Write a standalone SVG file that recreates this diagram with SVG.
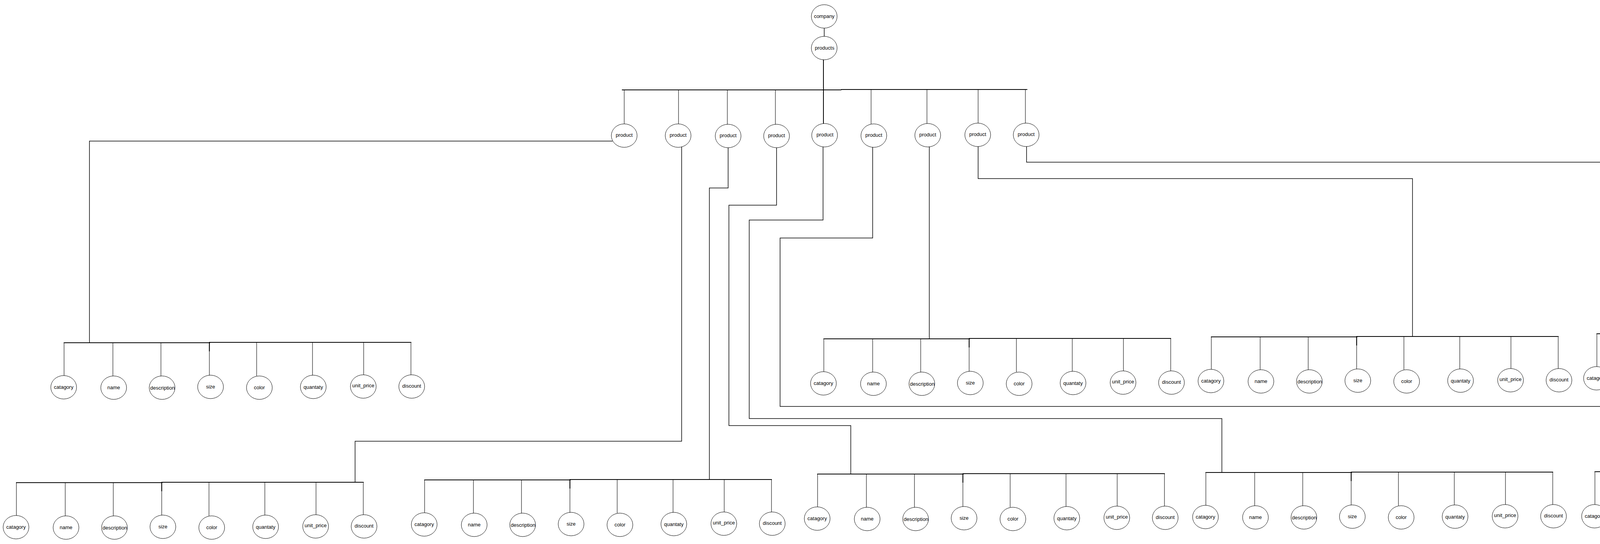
<svg xmlns="http://www.w3.org/2000/svg" width="5024" height="1392" viewBox="0 0 5024 1392">
<style>
.n ellipse{fill:#fff;stroke:#000;stroke-width:1}
.n text{font-family:"Liberation Sans",Arial,sans-serif;font-size:13px;fill:#000;text-anchor:middle}
#connectors path{fill:none;stroke:#000}
.bus{stroke-width:2}
.drop{stroke-width:1.1}
.link{stroke-width:1.5}
.stub{stroke-width:2.2}
</style>
<rect width="5024" height="1392" fill="#fff"/>
<g id="connectors">
<path class="link" d="M2110,72V93"/>
<path class="bus" d="M2108,153V317"/>
<path class="bus" d="M1592,230H2154M2153,229H2630"/>
<path class="drop" d="M1598,231V317M1737,231V317M1862,231V318M1985,231V318M2230,230V318M2373,230V316M2504,230V315M2625,230V315"/>
<path class="link" d="M1568,361H229V876"/>
<path class="link" d="M1745,376V1129H909V1234"/>
<path class="link" d="M1864,377V481H1816V1227"/>
<path class="link" d="M1988,378V525H1866V1089H2178V1212"/>
<path class="link" d="M2107,376V563H1918V1071H3128V1208"/>
<path class="link" d="M2234,377V609H1997V1040H4177V1206"/>
<path class="link" d="M2379,376V866"/>
<path class="link" d="M2504,375V457H3616V861"/>
<path class="link" d="M2628,375V415H4758V853"/>
<path class="bus" d="M163,877H538M535,876H1053"/>
<path class="stub" d="M536,876V899"/>
<path class="drop" d="M164,877V961M289,877V962M412,877V962M536,877V960M657,876V962M800,876V960M931,876V959M1052,876V959"/>
<path class="bus" d="M2108,867H2483M2480,866H2998"/>
<path class="stub" d="M2481,866V889"/>
<path class="drop" d="M2109,867V951M2234,867V952M2357,867V952M2481,867V950M2602,866V952M2745,866V950M2876,866V949M2997,866V949"/>
<path class="bus" d="M3100,862H3475M3472,861H3990"/>
<path class="stub" d="M3473,861V884"/>
<path class="drop" d="M3101,862V945M3226,862V946M3349,862V946M3473,862V944M3594,861V946M3737,861V944M3868,861V943M3989,861V943"/>
<path class="bus" d="M4087,854H4462M4459,853H4977"/>
<path class="stub" d="M4460,853V876"/>
<path class="drop" d="M4088,854V938M4213,854V939M4336,854V939M4460,854V937M4581,853V939M4724,853V937M4855,853V936M4976,853V936"/>
<path class="bus" d="M41,1235H416M413,1234H931"/>
<path class="stub" d="M414,1234V1257"/>
<path class="drop" d="M42,1235V1319M167,1235V1320M290,1235V1320M414,1235V1318M535,1234V1320M678,1234V1318M809,1234V1317M930,1234V1317"/>
<path class="bus" d="M1086,1228H1461M1458,1227H1976"/>
<path class="stub" d="M1459,1227V1250"/>
<path class="drop" d="M1087,1228V1312M1212,1228V1313M1335,1228V1313M1459,1228V1311M1580,1227V1313M1723,1227V1311M1854,1227V1310M1975,1227V1310"/>
<path class="bus" d="M2092,1213H2467M2464,1212H2982"/>
<path class="stub" d="M2465,1212V1235"/>
<path class="drop" d="M2093,1213V1297M2218,1213V1298M2341,1213V1298M2465,1213V1296M2586,1212V1298M2729,1212V1296M2860,1212V1295M2981,1212V1295"/>
<path class="bus" d="M3086,1209H3461M3458,1208H3976"/>
<path class="stub" d="M3459,1208V1231"/>
<path class="drop" d="M3087,1209V1293M3212,1209V1294M3335,1209V1294M3459,1209V1292M3580,1208V1294M3723,1208V1292M3854,1208V1291M3975,1208V1291"/>
<path class="bus" d="M4082,1207H4457M4454,1206H4972"/>
<path class="stub" d="M4455,1206V1229"/>
<path class="drop" d="M4083,1207V1291M4208,1207V1292M4331,1207V1292M4455,1207V1290M4576,1206V1292M4719,1206V1290M4850,1206V1289M4971,1206V1289"/>
</g>
<g id="company" class="n"><ellipse cx="2110" cy="42" rx="33" ry="30"/><text x="2110" y="46">company</text></g>
<g id="products" class="n"><ellipse cx="2110" cy="123" rx="33" ry="30"/><text x="2111" y="127">products</text></g>
<g id="product1" class="n"><ellipse cx="1598" cy="347" rx="33" ry="30"/><text x="1598" y="350">product</text></g>
<g id="product2" class="n"><ellipse cx="1736" cy="347" rx="33" ry="30"/><text x="1736" y="350">product</text></g>
<g id="product3" class="n"><ellipse cx="1864" cy="348" rx="33" ry="30"/><text x="1864" y="351">product</text></g>
<g id="product4" class="n"><ellipse cx="1988" cy="348" rx="33" ry="30"/><text x="1988" y="351">product</text></g>
<g id="product5" class="n"><ellipse cx="2111" cy="346" rx="33" ry="30"/><text x="2112" y="349">product</text></g>
<g id="product6" class="n"><ellipse cx="2237" cy="347" rx="33" ry="30"/><text x="2237" y="350">product</text></g>
<g id="product7" class="n"><ellipse cx="2375" cy="346" rx="33" ry="30"/><text x="2375" y="349">product</text></g>
<g id="product8" class="n"><ellipse cx="2503" cy="345" rx="33" ry="30"/><text x="2503" y="348">product</text></g>
<g id="product9" class="n"><ellipse cx="2627" cy="345" rx="33" ry="30"/><text x="2627" y="348">product</text></g>

<g id="p1-catagory" class="n"><ellipse cx="163" cy="991" rx="33" ry="30"/><text x="163" y="995">catagory</text></g>
<g id="p1-name" class="n"><ellipse cx="291" cy="992" rx="33" ry="30"/><text x="291" y="996">name</text></g>
<g id="p1-description" class="n"><ellipse cx="415" cy="992" rx="33" ry="30"/><text x="416" y="997">description</text></g>
<g id="p1-size" class="n"><ellipse cx="539" cy="990" rx="33" ry="30"/><text x="539" y="994">size</text></g>
<g id="p1-color" class="n"><ellipse cx="664" cy="992" rx="33" ry="30"/><text x="664" y="996">color</text></g>
<g id="p1-quantaty" class="n"><ellipse cx="802" cy="990" rx="33" ry="30"/><text x="802" y="995">quantaty</text></g>
<g id="p1-unit_price" class="n"><ellipse cx="930" cy="989" rx="33" ry="30"/><text x="930" y="991">unit_price</text></g>
<g id="p1-discount" class="n"><ellipse cx="1054" cy="989" rx="33" ry="30"/><text x="1054" y="992">discount</text></g>

<g id="p7-catagory" class="n"><ellipse cx="2108" cy="981" rx="33" ry="30"/><text x="2108" y="985">catagory</text></g>
<g id="p7-name" class="n"><ellipse cx="2236" cy="982" rx="33" ry="30"/><text x="2236" y="986">name</text></g>
<g id="p7-description" class="n"><ellipse cx="2360" cy="982" rx="33" ry="30"/><text x="2361" y="987">description</text></g>
<g id="p7-size" class="n"><ellipse cx="2484" cy="980" rx="33" ry="30"/><text x="2484" y="984">size</text></g>
<g id="p7-color" class="n"><ellipse cx="2609" cy="982" rx="33" ry="30"/><text x="2609" y="986">color</text></g>
<g id="p7-quantaty" class="n"><ellipse cx="2747" cy="980" rx="33" ry="30"/><text x="2747" y="985">quantaty</text></g>
<g id="p7-unit_price" class="n"><ellipse cx="2875" cy="979" rx="33" ry="30"/><text x="2875" y="981">unit_price</text></g>
<g id="p7-discount" class="n"><ellipse cx="2999" cy="979" rx="33" ry="30"/><text x="2999" y="982">discount</text></g>

<g id="p8-catagory" class="n"><ellipse cx="3100" cy="975" rx="33" ry="30"/><text x="3100" y="979">catagory</text></g>
<g id="p8-name" class="n"><ellipse cx="3228" cy="976" rx="33" ry="30"/><text x="3228" y="980">name</text></g>
<g id="p8-description" class="n"><ellipse cx="3352" cy="976" rx="33" ry="30"/><text x="3353" y="981">description</text></g>
<g id="p8-size" class="n"><ellipse cx="3476" cy="974" rx="33" ry="30"/><text x="3476" y="978">size</text></g>
<g id="p8-color" class="n"><ellipse cx="3601" cy="976" rx="33" ry="30"/><text x="3601" y="980">color</text></g>
<g id="p8-quantaty" class="n"><ellipse cx="3739" cy="974" rx="33" ry="30"/><text x="3739" y="979">quantaty</text></g>
<g id="p8-unit_price" class="n"><ellipse cx="3867" cy="973" rx="33" ry="30"/><text x="3867" y="975">unit_price</text></g>
<g id="p8-discount" class="n"><ellipse cx="3991" cy="973" rx="33" ry="30"/><text x="3991" y="976">discount</text></g>

<g id="p9-catagory" class="n"><ellipse cx="4087" cy="968" rx="33" ry="30"/><text x="4087" y="972">catagory</text></g>
<g id="p9-name" class="n"><ellipse cx="4215" cy="969" rx="33" ry="30"/><text x="4215" y="973">name</text></g>
<g id="p9-description" class="n"><ellipse cx="4339" cy="969" rx="33" ry="30"/><text x="4340" y="974">description</text></g>
<g id="p9-size" class="n"><ellipse cx="4463" cy="967" rx="33" ry="30"/><text x="4463" y="971">size</text></g>
<g id="p9-color" class="n"><ellipse cx="4588" cy="969" rx="33" ry="30"/><text x="4588" y="973">color</text></g>
<g id="p9-quantaty" class="n"><ellipse cx="4726" cy="967" rx="33" ry="30"/><text x="4726" y="972">quantaty</text></g>
<g id="p9-unit_price" class="n"><ellipse cx="4854" cy="966" rx="33" ry="30"/><text x="4854" y="968">unit_price</text></g>
<g id="p9-discount" class="n"><ellipse cx="4978" cy="966" rx="33" ry="30"/><text x="4978" y="969">discount</text></g>

<g id="p2-catagory" class="n"><ellipse cx="41" cy="1349" rx="33" ry="30"/><text x="41" y="1353">catagory</text></g>
<g id="p2-name" class="n"><ellipse cx="169" cy="1350" rx="33" ry="30"/><text x="169" y="1354">name</text></g>
<g id="p2-description" class="n"><ellipse cx="293" cy="1350" rx="33" ry="30"/><text x="294" y="1355">description</text></g>
<g id="p2-size" class="n"><ellipse cx="417" cy="1348" rx="33" ry="30"/><text x="417" y="1352">size</text></g>
<g id="p2-color" class="n"><ellipse cx="542" cy="1350" rx="33" ry="30"/><text x="542" y="1354">color</text></g>
<g id="p2-quantaty" class="n"><ellipse cx="680" cy="1348" rx="33" ry="30"/><text x="680" y="1353">quantaty</text></g>
<g id="p2-unit_price" class="n"><ellipse cx="808" cy="1347" rx="33" ry="30"/><text x="808" y="1349">unit_price</text></g>
<g id="p2-discount" class="n"><ellipse cx="932" cy="1347" rx="33" ry="30"/><text x="932" y="1350">discount</text></g>

<g id="p3-catagory" class="n"><ellipse cx="1086" cy="1342" rx="33" ry="30"/><text x="1086" y="1346">catagory</text></g>
<g id="p3-name" class="n"><ellipse cx="1214" cy="1343" rx="33" ry="30"/><text x="1214" y="1347">name</text></g>
<g id="p3-description" class="n"><ellipse cx="1338" cy="1343" rx="33" ry="30"/><text x="1339" y="1348">description</text></g>
<g id="p3-size" class="n"><ellipse cx="1462" cy="1341" rx="33" ry="30"/><text x="1462" y="1345">size</text></g>
<g id="p3-color" class="n"><ellipse cx="1587" cy="1343" rx="33" ry="30"/><text x="1587" y="1347">color</text></g>
<g id="p3-quantaty" class="n"><ellipse cx="1725" cy="1341" rx="33" ry="30"/><text x="1725" y="1346">quantaty</text></g>
<g id="p3-unit_price" class="n"><ellipse cx="1853" cy="1340" rx="33" ry="30"/><text x="1853" y="1342">unit_price</text></g>
<g id="p3-discount" class="n"><ellipse cx="1977" cy="1340" rx="33" ry="30"/><text x="1977" y="1343">discount</text></g>

<g id="p4-catagory" class="n"><ellipse cx="2092" cy="1327" rx="33" ry="30"/><text x="2092" y="1331">catagory</text></g>
<g id="p4-name" class="n"><ellipse cx="2220" cy="1328" rx="33" ry="30"/><text x="2220" y="1332">name</text></g>
<g id="p4-description" class="n"><ellipse cx="2344" cy="1328" rx="33" ry="30"/><text x="2345" y="1333">description</text></g>
<g id="p4-size" class="n"><ellipse cx="2468" cy="1326" rx="33" ry="30"/><text x="2468" y="1330">size</text></g>
<g id="p4-color" class="n"><ellipse cx="2593" cy="1328" rx="33" ry="30"/><text x="2593" y="1332">color</text></g>
<g id="p4-quantaty" class="n"><ellipse cx="2731" cy="1326" rx="33" ry="30"/><text x="2731" y="1331">quantaty</text></g>
<g id="p4-unit_price" class="n"><ellipse cx="2859" cy="1325" rx="33" ry="30"/><text x="2859" y="1327">unit_price</text></g>
<g id="p4-discount" class="n"><ellipse cx="2983" cy="1325" rx="33" ry="30"/><text x="2983" y="1328">discount</text></g>

<g id="p5-catagory" class="n"><ellipse cx="3086" cy="1323" rx="33" ry="30"/><text x="3086" y="1327">catagory</text></g>
<g id="p5-name" class="n"><ellipse cx="3214" cy="1324" rx="33" ry="30"/><text x="3214" y="1328">name</text></g>
<g id="p5-description" class="n"><ellipse cx="3338" cy="1324" rx="33" ry="30"/><text x="3339" y="1329">description</text></g>
<g id="p5-size" class="n"><ellipse cx="3462" cy="1322" rx="33" ry="30"/><text x="3462" y="1326">size</text></g>
<g id="p5-color" class="n"><ellipse cx="3587" cy="1324" rx="33" ry="30"/><text x="3587" y="1328">color</text></g>
<g id="p5-quantaty" class="n"><ellipse cx="3725" cy="1322" rx="33" ry="30"/><text x="3725" y="1327">quantaty</text></g>
<g id="p5-unit_price" class="n"><ellipse cx="3853" cy="1321" rx="33" ry="30"/><text x="3853" y="1323">unit_price</text></g>
<g id="p5-discount" class="n"><ellipse cx="3977" cy="1321" rx="33" ry="30"/><text x="3977" y="1324">discount</text></g>

<g id="p6-catagory" class="n"><ellipse cx="4082" cy="1321" rx="33" ry="30"/><text x="4082" y="1325">catagory</text></g>
<g id="p6-name" class="n"><ellipse cx="4210" cy="1322" rx="33" ry="30"/><text x="4210" y="1326">name</text></g>
<g id="p6-description" class="n"><ellipse cx="4334" cy="1322" rx="33" ry="30"/><text x="4335" y="1327">description</text></g>
<g id="p6-size" class="n"><ellipse cx="4458" cy="1320" rx="33" ry="30"/><text x="4458" y="1324">size</text></g>
<g id="p6-color" class="n"><ellipse cx="4583" cy="1322" rx="33" ry="30"/><text x="4583" y="1326">color</text></g>
<g id="p6-quantaty" class="n"><ellipse cx="4721" cy="1320" rx="33" ry="30"/><text x="4721" y="1325">quantaty</text></g>
<g id="p6-unit_price" class="n"><ellipse cx="4849" cy="1319" rx="33" ry="30"/><text x="4849" y="1321">unit_price</text></g>
<g id="p6-discount" class="n"><ellipse cx="4973" cy="1319" rx="33" ry="30"/><text x="4973" y="1322">discount</text></g>
</svg>
